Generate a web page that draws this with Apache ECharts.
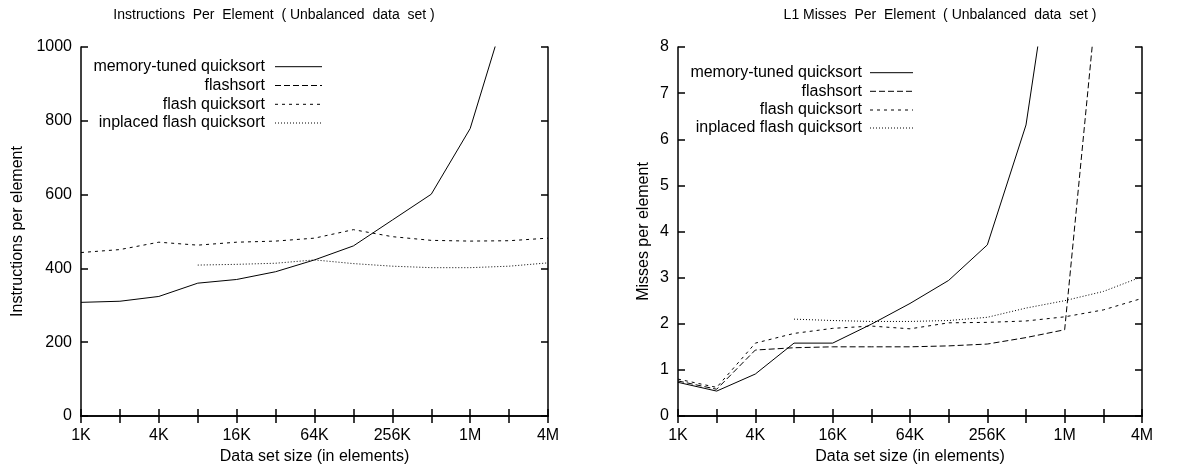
<!DOCTYPE html>
<html><head><meta charset="utf-8">
<script src="https://cdn.jsdelivr.net/npm/echarts@6/dist/echarts.min.js"></script>
<style>html,body{margin:0;padding:0;background:#fff}#c{width:1190px;height:472px}</style>
</head><body><div id="c"></div>
<script>
const sizes = ['1K','2K','4K','8K','16K','32K','64K','128K','256K','512K','1M','2M','4M'];
const seriesNames = ['memory-tuned quicksort','flashsort','flash quicksort','inplaced flash quicksort'];

// Instructions per element
const instrMemTuned = [308,311,324,360,370,391,423,461,531,601,779,1125,null];
const instrFlashsort = [null,null,null,null,null,null,null,null,null,null,null,null,null];
const instrFlashQuick = [443,451,471,463,471,474,482,505,486,476,474,475,482];
const instrInplaced = [null,null,null,409,411,414,423,413,406,402,402,406,415];

// L1 misses per element
const missMemTuned = [0.73,0.54,0.91,1.58,1.58,1.99,2.44,2.94,3.71,6.31,11.9,null,null];
const missFlashsort = [0.76,0.58,1.43,1.48,1.50,1.50,1.50,1.52,1.56,1.70,1.87,10.5,null];
const missFlashQuick = [0.80,0.62,1.58,1.79,1.90,1.95,1.89,2.02,2.03,2.06,2.15,2.30,2.55];
const missInplaced = [null,null,null,2.10,2.07,2.05,2.05,2.07,2.14,2.34,2.50,2.70,3.02];

const titles = ['Instructions  Per  Element  ( Unbalanced  data  set )','L1 Misses  Per  Element  ( Unbalanced  data  set )'];
const yNames = ['Instructions per element','Misses per element'];
const xName = 'Data set size (in elements)';

const FONT = '"Liberation Sans", Arial, Helvetica, sans-serif';
const FS = 16;
const dashes = [null,[6,3],[3,4],[1,2]];

const grids = [
  {left:81, right:1190-548, top:47, bottom:472-416},
  {left:678, right:1190-1142, top:47, bottom:472-416}
];

const xAxes = [], yAxes = [], series = [], graphics = [];
const axisLineStyle = {color:'#000', width:1.5};
const panels = [
  {data:[instrMemTuned,instrFlashsort,instrFlashQuick,instrInplaced], min:0, max:1000, interval:200,
   yGap:55, textRight:265, lineX:[275,322], legendCenters:[66.7,85.5,104.3,123], titleX:274},
  {data:[missMemTuned,missFlashsort,missFlashQuick,missInplaced], min:0, max:8, interval:1,
   yGap:26, textRight:862, lineX:[870,913], legendCenters:[72.7,91.3,110,128], titleX:940}
];

panels.forEach((p, gi) => {
  xAxes.push({
    type:'category', gridIndex:gi, data:sizes, boundaryGap:false, position:'bottom',
    axisLine:{lineStyle:axisLineStyle},
    axisTick:{inside:true, length:7, interval:0, lineStyle:{color:'#000', width:1.5}},
    axisLabel:{interval:1, color:'#000', fontFamily:FONT, fontSize:FS, margin:12},
    splitLine:{show:false},
    name:xName, nameLocation:'middle', nameGap:31,
    nameTextStyle:{color:'#000', fontFamily:FONT, fontSize:FS}
  });
  xAxes.push({
    type:'category', gridIndex:gi, data:sizes, boundaryGap:false, position:'top',
    axisLine:{lineStyle:axisLineStyle},
    axisTick:{inside:true, length:7, interval:0, lineStyle:{color:'#000', width:1.5}},
    axisLabel:{show:false}, splitLine:{show:false}
  });
  yAxes.push({
    type:'value', gridIndex:gi, min:p.min, max:p.max, interval:p.interval, position:'left',
    axisLine:{show:true, lineStyle:axisLineStyle},
    axisTick:{show:true, inside:true, length:7, lineStyle:{color:'#000', width:1.5}},
    axisLabel:{color:'#000', fontFamily:FONT, fontSize:FS, margin:9, formatter:v => String(v)},
    splitLine:{show:false},
    name:yNames[gi], nameLocation:'middle', nameGap:p.yGap,
    nameTextStyle:{color:'#000', fontFamily:FONT, fontSize:FS}
  });
  yAxes.push({
    type:'value', gridIndex:gi, min:p.min, max:p.max, interval:p.interval, position:'right',
    axisLine:{show:true, lineStyle:axisLineStyle},
    axisTick:{show:true, inside:true, length:7, lineStyle:{color:'#000', width:1.5}},
    axisLabel:{show:false}, splitLine:{show:false}
  });
  p.data.forEach((d, si) => {
    series.push({
      name:seriesNames[si], type:'line', xAxisIndex:gi*2, yAxisIndex:gi*2, data:d,
      showSymbol:false, symbol:'none', connectNulls:false, clip:true, animation:false,
      lineStyle:{color:'#000', width:1, type:dashes[si] || 'solid'},
      itemStyle:{color:'#000'}
    });
    const cy = p.legendCenters[si];
    graphics.push({type:'text', x:p.textRight, y:cy,
      style:{text:seriesNames[si], textAlign:'right', textVerticalAlign:'middle', font:FS+'px '+FONT, fill:'#000'}});
    graphics.push({type:'line', shape:{x1:p.lineX[0], y1:cy, x2:p.lineX[1], y2:cy},
      style:{stroke:'#000', lineWidth:1, lineDash:dashes[si] || null}});
  });
  graphics.push({type:'text', x:p.titleX, y:15,
    style:{text:titles[gi], textAlign:'center', textVerticalAlign:'middle', font:'14px '+FONT, fill:'#000'}});
});

const chart = echarts.init(document.getElementById('c'), null, {renderer:'canvas'});
chart.setOption({
  backgroundColor:'#fff',
  animation:false,
  grid:grids,
  xAxis:xAxes,
  yAxis:yAxes,
  series:series,
  graphic:graphics
});
</script></body></html>
